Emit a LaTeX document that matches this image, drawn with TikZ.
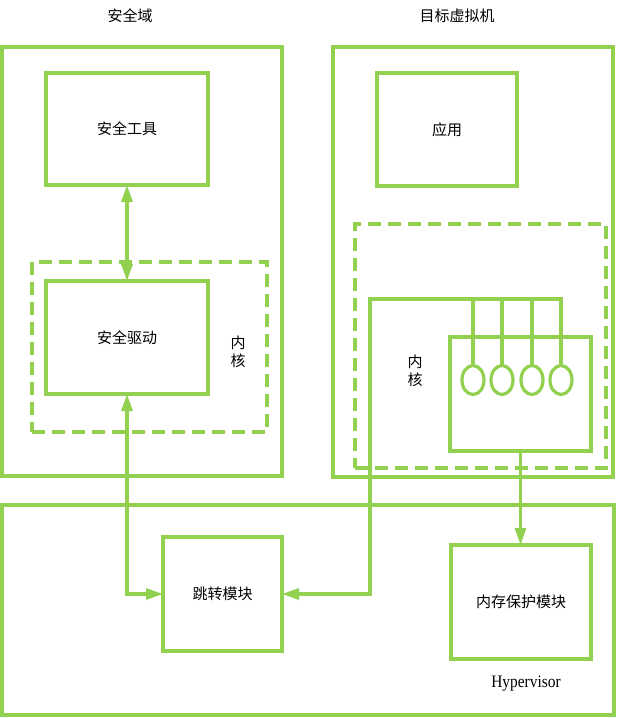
\documentclass[tikz,border=0pt]{standalone}
\usepackage{fontspec}
\setmainfont{Liberation Serif}
\newfontfamily\cjk{Noto Sans CJK SC}
\newfontfamily\narrowserif[FakeStretch=0.88]{Liberation Serif}
\usetikzlibrary{arrows.meta,shapes.geometric}
\definecolor{lgreen}{HTML}{92D050}
\begin{document}
\begin{tikzpicture}[x=1pt,y=-1pt,
  line width=3.2pt,
  every node/.style={inner sep=0pt,outer sep=0pt},
  box/.style={draw=lgreen,rectangle},
  dbox/.style={draw=lgreen,dashed,dash pattern=on 13pt off 7pt},
  lbl/.style={font=\cjk\fontsize{15}{18}\selectfont,text=black},
  conn/.style={draw=lgreen,line width=3.2pt},
  tip/.style={-{Triangle[length=17pt,width=11pt]}},
  tips/.style={{Triangle[length=17pt,width=11pt]}-{Triangle[length=17pt,width=11pt]}},
  ring/.style={draw=lgreen,ellipse,minimum width=22pt,minimum height=29pt,line width=3.2pt}]
\useasboundingbox (0,0) rectangle (617,718);

% titles
\node[lbl] (t1) at (130,16) {安全域};
\node[lbl] (t2) at (457,16) {目标虚拟机};

% security domain
\node[box,minimum width=280pt,minimum height=429pt] (secdom) at (142,261.5) {};
\node[box,minimum width=162pt,minimum height=112pt,lbl] (tool) at (127,129) {安全工具};
\node[dbox,minimum width=235pt,minimum height=170pt] (kerL) at (149.5,347) {};
\node[box,minimum width=162pt,minimum height=113pt,lbl] (drv) at (127,337.5) {安全驱动};
\node[lbl,align=center] (kl) at (238,352) {内\\核};

% target virtual machine
\node[box,minimum width=280pt,minimum height=430pt] (vm) at (473,262) {};
\node[box,minimum width=140pt,minimum height=113pt,lbl] (app) at (447,129.5) {应用};
\node[dbox,minimum width=251pt,minimum height=244pt] (kerR) at (480.5,346) {};
\node[box,minimum width=141pt,minimum height=114pt] (kbox) at (520.5,394) {};
\node[lbl,align=center] (kr) at (415,371) {内\\核};
\node[ring] (e1) at (473,380) {};
\node[ring] (e2) at (502,380) {};
\node[ring] (e3) at (532,380) {};
\node[ring] (e4) at (561,380) {};
\coordinate (kc) at (370,299);

% hypervisor
\node[box,minimum width=612pt,minimum height=210pt] (hyp) at (308,610) {};
\node[box,minimum width=119pt,minimum height=114pt,lbl] (jump) at (222.5,594) {跳转模块};
\node[box,minimum width=140pt,minimum height=114pt,lbl] (mem) at (521,602) {内存保护模块};
\node[font=\narrowserif\fontsize{17.5}{20}\selectfont] (hv) at (526,684) {Hypervisor};

% connectors
\draw[conn,tips] (tool.south) -- (drv.north);
\draw[conn,tips] (drv.south) |- (jump.west);
\draw[conn] (e1.north) -- (e1.north |- kc);
\draw[conn] (e2.north) -- (e2.north |- kc);
\draw[conn] (e3.north) -- (e3.north |- kc);
\draw[conn,tip] (e4.north) -- (e4.north |- kc) -- (kc) |- (jump.east);
\draw[conn,tip] (kbox.south) -- (kbox.south |- mem.north);
\end{tikzpicture}
\end{document}
